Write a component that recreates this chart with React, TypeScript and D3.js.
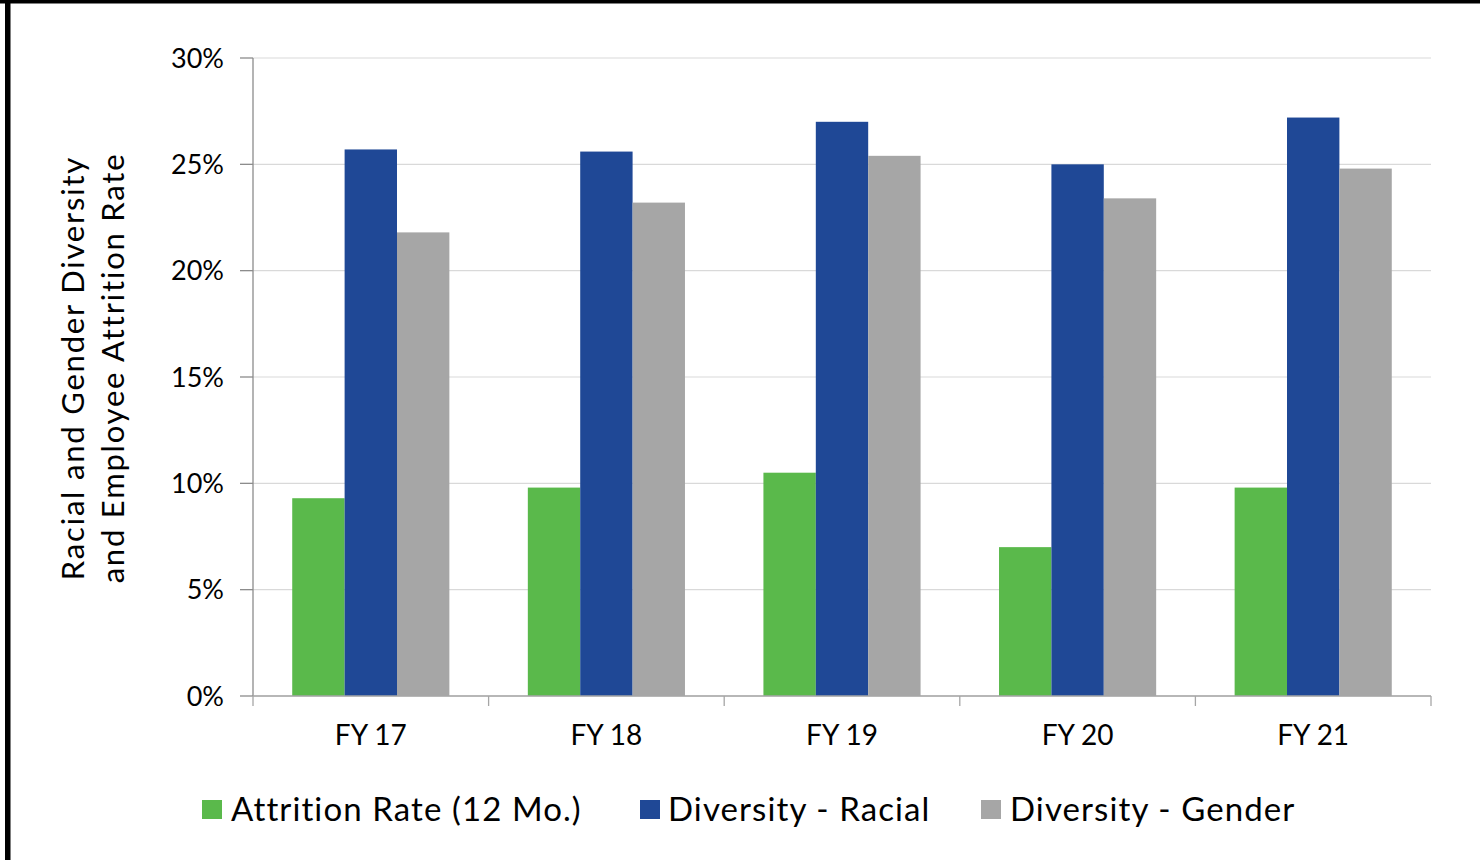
import React from "react";
import * as d3 from "d3";

const categories = ["FY 17", "FY 18", "FY 19", "FY 20", "FY 21"];
const seriesNames = ["Attrition Rate (12 Mo.)", "Diversity - Racial", "Diversity - Gender"];
const attrition = [9.3, 9.8, 10.5, 7.0, 9.8];
const racial = [25.7, 25.6, 27.0, 25.0, 27.2];
const gender = [21.8, 23.2, 25.4, 23.4, 24.8];
const yTicks = [0, 5, 10, 15, 20, 25, 30];
const colors = ["#5ab94b", "#1f4896", "#a6a6a6"];

const W = 1480;
const H = 863;
const left = 253;
const right = 1431;
const top = 58;
const bottom = 696;
const FONT = "Lato, 'Open Sans', sans-serif";

export default function App() {
  const series = [attrition, racial, gender];
  const x0 = d3.scaleBand<string>().domain(categories).range([left, right]).paddingInner(0).paddingOuter(0);
  const y = d3.scaleLinear().domain([0, 30]).range([bottom, top]);
  const groupW = x0.bandwidth() * 0.667;
  const x1 = d3
    .scaleBand<number>()
    .domain(seriesNames.map((_, i) => i))
    .range([0, groupW])
    .padding(0);

  const legendItems = [
    { sx: 202, tx: 231 },
    { sx: 640, tx: 668 },
    { sx: 981, tx: 1010 },
  ];

  return (
    <svg
      width={W}
      height={H}
      style={{ position: "absolute", left: 0, top: 0, background: "#fff" }}
      fontFamily={FONT}
    >
      <rect x={0} y={0} width={W} height={H} fill="#fff" />
      <rect x={0} y={0} width={W} height={3.5} fill="#000" />
      <rect x={5} y={0} width={5.5} height={860} fill="#000" />

      {/* gridlines */}
      {yTicks.map((t) => (
        <line key={"g" + t} x1={left} x2={right} y1={y(t)} y2={y(t)} stroke="#d9d9d9" strokeWidth={1.2} />
      ))}

      {/* bars */}
      {categories.map((c, ci) => {
        const gx = (x0(c) as number) + (x0.bandwidth() - groupW) / 2;
        return series.map((s, si) => (
          <rect
            key={c + si}
            x={gx + (x1(si) as number)}
            y={y(s[ci])}
            width={x1.bandwidth()}
            height={bottom - y(s[ci])}
            fill={colors[si]}
          />
        ));
      })}

      {/* axes */}
      <line x1={left} x2={left} y1={top} y2={bottom} stroke="#8c8c8c" strokeWidth={1.3} />
      <line x1={left} x2={right} y1={bottom} y2={bottom} stroke="#a6a6a6" strokeWidth={1.5} />
      {yTicks.map((t) => (
        <line key={"yt" + t} x1={left - 13} x2={left} y1={y(t)} y2={y(t)} stroke="#8c8c8c" strokeWidth={1.3} />
      ))}
      {d3.range(categories.length + 1).map((i) => {
        const xx = left + i * x0.bandwidth();
        return <line key={"xt" + i} x1={xx} x2={xx} y1={bottom} y2={bottom + 10} stroke="#a6a6a6" strokeWidth={1.3} />;
      })}

      {/* y tick labels */}
      {yTicks.map((t) => (
        <text key={"yl" + t} x={224} y={y(t)} dy="0.36em" textAnchor="end" fontSize={27} fill="#000">
          {t + "%"}
        </text>
      ))}

      {/* x labels */}
      {categories.map((c) => (
        <text
          key={"xl" + c}
          x={(x0(c) as number) + x0.bandwidth() / 2}
          y={745}
          textAnchor="middle"
          fontSize={28}
          fill="#000"
        >
          {c}
        </text>
      ))}

      {/* y title */}
      <g transform="translate(84,368) rotate(-90)">
        <text x={0} y={0} textAnchor="middle" fontSize={31} letterSpacing={1.8} fill="#000">
          Racial and Gender Diversity
        </text>
        <text x={0} y={40} textAnchor="middle" fontSize={31} letterSpacing={1.8} fill="#000">
          and Employee Attrition Rate
        </text>
      </g>

      {/* legend */}
      {seriesNames.map((n, i) => (
        <g key={"lg" + i}>
          <rect x={legendItems[i].sx} y={800} width={20} height={19} fill={colors[i]} />
          <text x={legendItems[i].tx} y={821} fontSize={33} letterSpacing={1.1} fill="#000">
            {n}
          </text>
        </g>
      ))}
    </svg>
  );
}
